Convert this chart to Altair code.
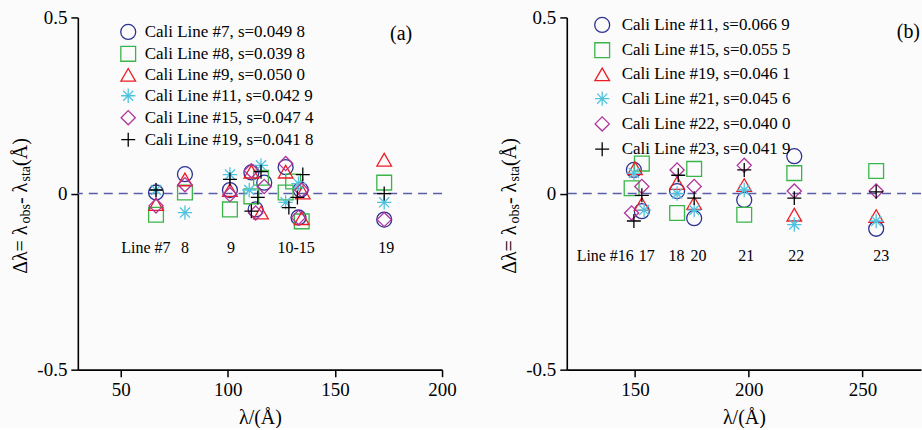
import altair as alt
import pandas as pd

FONT = "Liberation Serif"

# ---------------- Panel (a) data ----------------
a_names = ["Cali Line #7, s=0.049 8", "Cali Line #8, s=0.039 8", "Cali Line #9, s=0.050 0",
           "Cali Line #11, s=0.042 9", "Cali Line #15, s=0.047 4", "Cali Line #19, s=0.041 8"]
a7_x = [66.5, 80, 101, 111, 117, 113, 127, 134, 133, 173]
a7_y = [0.003, 0.055, 0.010, 0.060, 0.031, -0.045, 0.075, 0.011, -0.068, -0.074]
a8_x = [66.5, 80, 101, 111, 115.5, 127, 130.5, 134.5, 173]
a8_y = [-0.060, 0.003, -0.045, -0.008, 0.045, 0.003, 0.034, -0.079, 0.031]
a9_x = [66.5, 80, 101, 111, 115.5, 127, 134.5, 135, 173]
a9_y = [-0.030, 0.040, 0.010, 0.062, -0.054, 0.062, -0.070, 0.003, 0.096]
a11_x = [66.5, 80, 101, 110, 115.5, 127, 133, 173]
a11_y = [0.010, -0.054, 0.054, 0.010, 0.080, -0.025, 0.028, -0.025]
a15_x = [66.5, 80, 101, 111, 117, 113, 127, 133, 134.5, 173]
a15_y = [-0.035, 0.025, -0.003, 0.065, 0.020, -0.055, 0.085, -0.068, 0.010, -0.074]
a19_x = [66.5, 101, 115.5, 114, 111, 135, 132.5, 128.5, 173]
a19_y = [0.010, 0.040, 0.062, -0.011, -0.050, 0.054, -0.011, -0.040, 0.000]
a_lab_text = ["Line #7", "8", "9", "10-15", "19"]
a_lab_x = [61.8, 80, 101.5, 131.9, 173.9]

# ---------------- Panel (b) data ----------------
b_names = ["Cali Line #11, s=0.066 9", "Cali Line #15, s=0.055 5", "Cali Line #19, s=0.046 1",
           "Cali Line #21, s=0.045 6", "Cali Line #22, s=0.040 0", "Cali Line #23, s=0.041 9"]
b11_x = [149.5, 153, 168.5, 176, 198, 220, 256]
b11_y = [0.067, -0.050, 0.007, -0.070, -0.018, 0.106, -0.100]
b15_x = [148.5, 153, 168.5, 176, 198, 220, 256]
b15_y = [0.015, 0.085, -0.055, 0.070, -0.060, 0.058, 0.064]
b19_x = [150, 153, 168.5, 176, 198, 220, 256]
b19_y = [0.072, -0.030, 0.030, -0.027, 0.024, -0.060, -0.064]
b21_x = [149.5, 154, 168.5, 176, 198, 220, 256]
b21_y = [0.058, -0.047, 0.000, -0.047, 0.010, -0.088, -0.078]
b22_x = [148.5, 153, 168.5, 176, 198, 220, 256]
b22_y = [-0.055, 0.020, 0.067, 0.020, 0.080, 0.007, 0.007]
b23_x = [149.5, 153, 169, 176, 198, 220, 256]
b23_y = [-0.078, -0.005, 0.052, -0.013, 0.067, -0.013, 0.005]
b_lab_text = ["Line #16", "17", "18", "20", "21", "22", "23"]
b_lab_x = [136.9, 155.1, 168.2, 177.9, 198.9, 220.9, 258.2]

y_ticks = [-0.5, 0, 0.5]

COLORS = ["#2E3192", "#39B54A", "#ED1C24", "#4FC3DE", "#B0349C", "#000000"]
STAR = "M0,-1L0,1M-1,0L1,0M-0.7,-0.7L0.7,0.7M-0.7,0.7L0.7,-0.7"
PLUS = "M0,-1L0,1M-1,0L1,0"
SHAPES = ["circle", "square", "triangle-up", STAR, "diamond", PLUS]
SIZES = [225, 196, 300, 230, 225, 256]


def y_title_layers():
    # pieces of "Δλ= λobs- λsta(Å)" drawn rotated, with subscripts
    pieces = [("Δλ= λ", 20, 0, 0), ("obs", 14, 50.5, 5), ("- λ", 20, 70.0, 0),
              ("sta", 14, 92.6, 5), ("(Å)", 20, 108.2, 0)]
    layers = []
    for txt, fs, off, sub in pieces:
        layers.append(
            alt.Chart(pd.DataFrame({"t": [txt]}))
            .mark_text(font=FONT, fontSize=fs, angle=270, align="left", baseline="middle",
                       color="black", dx=off, dy=sub)
            .encode(text="t:N", x=alt.value(-57), y=alt.value(257))
        )
    return layers


def panel(names, xs_list, ys_list, xdom, width, xticks, lab_text, lab_x, lab_y,
          letter, letter_x, letter_y, letter_align, legx, legy, rowpad, laboff):
    rows = []
    for name, xs, ys in zip(names, xs_list, ys_list):
        for x, y in zip(xs, ys):
            rows.append({"series": name, "wl": x, "dl": y})
    df = pd.DataFrame(rows)
    xsc = alt.Scale(domain=xdom, nice=False, zero=False)
    ysc = alt.Scale(domain=[-0.5, 0.5], nice=False, zero=False)
    xax = alt.Axis(values=xticks, title="λ/(Å)", labelPadding=4, titlePadding=8, labelFlush=False)
    yax = alt.Axis(values=y_ticks, title=None, labelPadding=4, labelFlush=False,
                   labelExpr="datum.value === 0 ? '0' : '' + datum.value")
    leg = alt.Legend(title=None, orient="none", legendX=legx, legendY=legy,
                     labelFont=FONT, labelFontSize=17, labelColor="black", labelLimit=400,
                     rowPadding=rowpad, symbolSize=150, symbolStrokeWidth=1.3,
                     labelOffset=laboff, padding=0)
    zero = alt.Chart(pd.DataFrame({"z": [0]})).mark_rule(
        strokeDash=[9, 6], color="#5A5EA8", strokeWidth=1.5
    ).encode(y=alt.Y("z:Q", scale=ysc, axis=yax))
    pts = alt.Chart(df).mark_point(filled=False, strokeWidth=1.3, opacity=1).encode(
        x=alt.X("wl:Q", scale=xsc, axis=xax),
        y=alt.Y("dl:Q", scale=ysc, axis=yax),
        color=alt.Color("series:N", scale=alt.Scale(domain=names, range=COLORS), legend=leg),
        shape=alt.Shape("series:N", scale=alt.Scale(domain=names, range=SHAPES), legend=leg),
        size=alt.Size("series:O", scale=alt.Scale(domain=names, range=SIZES), legend=None),
    )
    labs = alt.Chart(pd.DataFrame({"t": lab_text, "x": lab_x, "y": [lab_y] * len(lab_x)})).mark_text(
        font=FONT, fontSize=16, baseline="middle", color="black"
    ).encode(x=alt.X("x:Q", scale=xsc), y=alt.Y("y:Q", scale=ysc), text="t:N")
    let = alt.Chart(pd.DataFrame({"t": [letter]})).mark_text(
        font=FONT, fontSize=20, baseline="middle", align=letter_align, color="black"
    ).encode(text="t:N", x=alt.value(letter_x), y=alt.value(letter_y))
    return alt.layer(zero, pts, labs, let, *y_title_layers()).properties(width=width, height=353)


pa = panel(a_names, [a7_x, a8_x, a9_x, a11_x, a15_x, a19_x],
           [a7_y, a8_y, a9_y, a11_y, a15_y, a19_y],
           [30, 200], 365, [50, 100, 150, 200], a_lab_text, a_lab_x, -0.156,
           "(a)", 324, 17, "center", 42, 6, 1, 8)
pb = panel(b_names, [b11_x, b15_x, b19_x, b21_x, b22_x, b23_x],
           [b11_y, b15_y, b19_y, b21_y, b22_y, b23_y],
           [120, 275.7], 355, [150, 200, 250], b_lab_text, b_lab_x, -0.177,
           "(b)", 354, 15, "right", 27, -1, 4.3, 11)

chart = (
    alt.hconcat(pa, pb, spacing=42)
    .resolve_scale(color="independent", shape="independent", size="independent")
    .configure(background="#FBFBFB", padding={"left": 10, "top": 8, "right": 0, "bottom": 0})
    .configure_view(stroke=None)
    .configure_axis(labelFont=FONT, labelFontSize=19, labelColor="black",
                    titleFont=FONT, titleFontSize=20, titleFontWeight="normal", titleColor="black",
                    domainColor="black", domainWidth=1.6, tickColor="black", tickWidth=1.5,
                    tickSize=7, grid=False)
)

chart.save("out.html", embed_options={"renderer": "svg", "actions": False})
